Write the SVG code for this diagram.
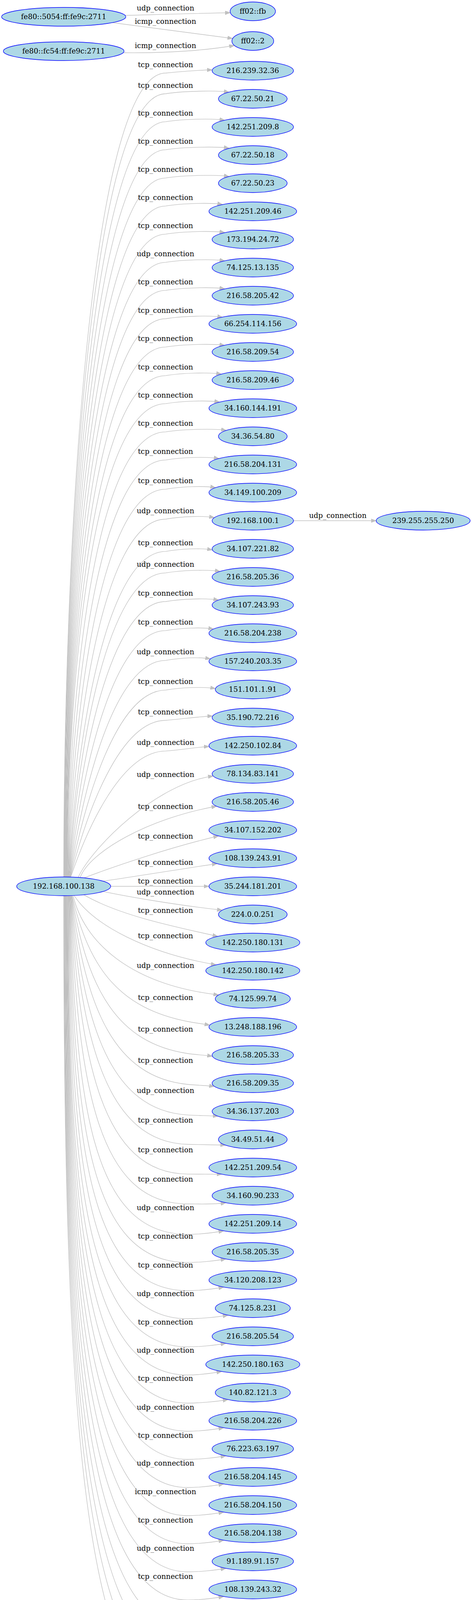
<svg xmlns="http://www.w3.org/2000/svg" width="1208" height="4391" viewBox="0 0 1208 4391">
<style>
.n ellipse{fill:#add8e6;stroke:#0000ff;stroke-width:1.33}
text{font-family:"DejaVu Serif","Liberation Serif",serif;font-size:18.4px;text-anchor:middle;fill:#000}
.e path{fill:none;stroke:#c0c0c0;stroke-width:1.33;marker-end:url(#ah)}
</style>
<defs>
<marker id="ah" viewBox="0 0 14 10" refX="13.3" refY="5" markerWidth="14" markerHeight="10" markerUnits="userSpaceOnUse" orient="auto">
<path d="M0,0.3 L13.3,5 L0,9.7 z" fill="#c0c0c0" stroke="#c0c0c0" stroke-width="1"/>
</marker>
</defs>
<rect width="1208" height="4391" fill="#fff"/>
<g id="connectors" class="e">
<path d="M321,39.5 C400,37 500,34.5 589.5,32.5"/><text x="423.5" y="27.2">udp_connection</text>
<path d="M288,58 L595.5,98.5"/><text x="423.5" y="60.5">icmp_connection</text>
<path d="M317,135 C420,136 520,130 600,116.5"/><text x="423.5" y="122.8">icmp_connection</text>
<path d="M750.7,1333 L963,1333"/><text x="864.5" y="1326.2">udp_connection</text>
<path d="M163,2245.4 C163,1422 228.3,188 424,187 C465,183 513.3,179 543.3,179"/><text x="423.5" y="171.5">tcp_connection</text>
<path d="M163.75,2245.4 C163.75,1443.2 228.8,241 424,240 C465,233 556.3,231 586.3,236"/><text x="423.5" y="224.5">tcp_connection</text>
<path d="M164.5,2245.4 C164.5,1471.9 229.4,312.7 424,311.7 C465,304.7 545.2,302.7 575.2,307.7"/><text x="423.5" y="296.2">tcp_connection</text>
<path d="M165.25,2245.4 C165.25,1500.6 229.9,384.3 424,383.3 C465,376.3 556.3,374.3 586.3,379.3"/><text x="423.5" y="367.8">tcp_connection</text>
<path d="M166,2245.4 C166,1529.5 230.5,456.7 424,455.7 C465,448.7 556.3,446.7 586.3,451.7"/><text x="423.5" y="440.2">tcp_connection</text>
<path d="M166.75,2245.4 C166.75,1558.2 231.1,528.3 424,527.3 C465,520.3 539.6,518.3 569.6,523.3"/><text x="423.5" y="511.8">tcp_connection</text>
<path d="M167.5,2245.4 C167.5,1587 231.6,600.3 424,599.3 C465,592.3 545.2,590.3 575.2,595.3"/><text x="423.5" y="583.8">tcp_connection</text>
<path d="M168.25,2245.4 C168.25,1615.9 232.2,672.7 424,671.7 C465,664.7 545.2,662.7 575.2,667.7"/><text x="423.5" y="656.2">udp_connection</text>
<path d="M169,2245.4 C169,1644.6 232.75,744.3 424,743.3 C465,736.3 545.2,734.3 575.2,739.3"/><text x="423.5" y="727.8">tcp_connection</text>
<path d="M169.75,2245.4 C169.75,1673.6 233.3,817 424,816 C465,809 539.6,807 569.6,812"/><text x="423.5" y="800.5">tcp_connection</text>
<path d="M170.5,2245.4 C170.5,1702.6 233.9,889.3 424,888.3 C465,881.3 545.2,879.3 575.2,884.3"/><text x="423.5" y="872.8">tcp_connection</text>
<path d="M171.25,2245.4 C171.25,1731.9 234.4,962.7 424,961.7 C465,954.7 536.8,952.7 566.8,957.7"/><text x="423.5" y="946.2">tcp_connection</text>
<path d="M172,2245.4 C172,1760.6 235,1034.3 424,1033.3 C465,1026.3 532.2,1024.3 562.2,1029.3"/><text x="423.5" y="1017.8">tcp_connection</text>
<path d="M172.75,2245.4 C175.75,1789.5 240.4,1106.7 424,1105.7 C465,1098.7 549.2,1096.7 579.2,1101.7"/><text x="423.5" y="1090.2">tcp_connection</text>
<path d="M173.5,2245.4 C180.1,1818.3 246.7,1178.7 424,1177.7 C465,1170.7 530.5,1168.7 560.5,1173.7"/><text x="423.5" y="1162.2">tcp_connection</text>
<path d="M174.25,2245.4 C184.55,1848.2 253.25,1253.3 424,1252.3 C465,1245.3 521.8,1243.3 551.8,1248.3"/><text x="423.5" y="1236.8">tcp_connection</text>
<path d="M175,2245.4 C189.2,1878.8 259.95,1330 424,1329 C465,1322 518.8,1320 548.8,1325"/><text x="423.5" y="1313.5">udp_connection</text>
<path d="M175.75,2245.4 C194.05,1911.9 267.1,1412.7 424,1411.7 C465,1404.7 513.5,1402.7 543.5,1407.7"/><text x="423.5" y="1396.2">tcp_connection</text>
<path d="M176.5,2245.4 C197.6,1933.9 272.1,1467.7 424,1466.7 C465,1459.7 533.4,1457.7 563.4,1462.7"/><text x="423.5" y="1451.2">udp_connection</text>
<path d="M177.25,2245.4 C201.95,1963.2 278.55,1541 424,1540 C465,1533 529.5,1531 559.5,1536"/><text x="423.5" y="1524.5">tcp_connection</text>
<path d="M178,2245.4 C206.4,1993 285,1615.3 424,1614.3 C465,1607.3 516.6,1605.3 546.6,1610.3"/><text x="423.5" y="1598.8">tcp_connection</text>
<path d="M178.75,2245.4 C211.05,2023.5 291.65,1691.7 424,1690.7 C465,1683.7 508.7,1681.7 538.7,1686.7"/><text x="423.5" y="1675.2">udp_connection</text>
<path d="M179.5,2245.4 C215.6,2053.9 298.3,1767.7 424,1766.7 C465,1759.7 521.5,1757.7 551.5,1762.7"/><text x="423.5" y="1751.2">tcp_connection</text>
<path d="M180.25,2245.4 C220.15,2084.8 305.05,1845 424,1844 C470,1840 515,1834 544.4,1833"/><text x="423.5" y="1828.5">tcp_connection</text>
<path d="M181,2245.3 C224.9,2116.3 311.95,1923.7 424,1922.7 C470,1919 510,1912 535.2,1911"/><text x="423.5" y="1907.2">udp_connection</text>
<path d="M200,2246.2 C235,2170 400,2005 545.9,1986.7"/><text x="423.5" y="1988.5">udp_connection</text>
<path d="M205,2246.5 C230,2180 380,2095 554.5,2064"/><text x="423.5" y="2071.2">tcp_connection</text>
<path d="M215,2247.4 C300,2215 440,2168 559.4,2140"/><text x="423.5" y="2146.8">tcp_connection</text>
<path d="M263,2255.7 C340,2245 460,2225 555.9,2211"/><text x="423.5" y="2213.8">tcp_connection</text>
<path d="M283.3,2269 L534.8,2269"/><text x="423.5" y="2261.5">tcp_connection</text>
<path d="M263.4,2282.2 C340,2298 460,2318 568.9,2330"/><text x="423.5" y="2289.5">udp_connection</text>
<path d="M214.3,2290.7 C300,2340 420,2367 557.4,2397"/><text x="423.5" y="2336.5">tcp_connection</text>
<path d="M189.7,2292.4 C240,2370 380,2440 553.1,2470"/><text x="423.5" y="2401.5">tcp_connection</text>
<path d="M187,2292.5 C215,2410 330,2520 559.7,2547"/><text x="423.5" y="2477.5">udp_connection</text>
<path d="M184.6,2292.6 C228.5,2486 310.8,2581.2 480,2615 C495,2618 522,2621.5 537,2624.5"/><text x="423.5" y="2559.5">tcp_connection</text>
<path d="M183.7,2292.7 C223.5,2535.3 301.8,2670.3 480,2697 C495,2699.3 528.7,2701.8 543.7,2704"/><text x="423.5" y="2640.5">tcp_connection</text>
<path d="M182.8,2292.7 C218.6,2582.7 293.1,2757.3 480,2776 C495,2777.5 533.8,2779.5 548.8,2781"/><text x="423.5" y="2720.5">tcp_connection</text>
<path d="M181.9,2292.7 C213.8,2629.7 284.45,2842.6 480,2854.3 C495,2855.2 543.1,2856.6 558.1,2857.5"/><text x="423.5" y="2797.8">udp_connection</text>
<path d="M181,2292.7 C209.2,2674.8 276.2,2923.4 480,2929.5 C495,2930 562,2931 577,2931.5"/><text x="423.5" y="2873.8">tcp_connection</text>
<path d="M180.1,2292.7 C204.5,2720.4 262,3003.4 480,3005.6 C495,3005.8 552.8,3006 567.8,3006"/><text x="423.5" y="2949.5">tcp_connection</text>
<path d="M179.2,2292.7 C199.7,2766.3 245,3082 480,3082 C510,3082 550.2,3084 578.2,3079"/><text x="423.5" y="3024.5">tcp_connection</text>
<path d="M178.3,2292.7 C194.9,2813.1 230,3160 480,3160 C510,3160 544.8,3156 572.8,3151"/><text x="423.5" y="3097.8">udp_connection</text>
<path d="M177.4,2292.7 C190.4,2856.3 222,3232 480,3232 C510,3232 550.2,3228 578.2,3223"/><text x="423.5" y="3171.2">tcp_connection</text>
<path d="M176.5,2292.7 C185.9,2899.5 218,3304 480,3304 C510,3304 544.8,3300 572.8,3295"/><text x="423.5" y="3244.5">tcp_connection</text>
<path d="M175.6,2292.7 C181.4,2942.7 215.2,3376 480,3376 C510,3376 555.5,3372 583.5,3367"/><text x="423.5" y="3317.8">udp_connection</text>
<path d="M174.7,2292.7 C176.9,2985.9 214.4,3448 480,3448 C510,3448 550.2,3444 578.2,3439"/><text x="423.5" y="3390.5">tcp_connection</text>
<path d="M173.8,2292.7 C173.8,3029.1 213.6,3520 480,3520 C510,3520 539.5,3516 567.5,3511"/><text x="423.5" y="3462.8">udp_connection</text>
<path d="M172.9,2292.7 C172.9,3072.3 212.8,3592 480,3592 C510,3592 555.5,3588 583.5,3583"/><text x="423.5" y="3534.5">tcp_connection</text>
<path d="M172,2292.7 C172,3115.5 212,3664 480,3664 C510,3664 544.8,3660 572.8,3655"/><text x="423.5" y="3608.5">udp_connection</text>
<path d="M171.1,2292.7 C171.1,3158.7 211.3,3736 480,3736 C510,3736 550.2,3732 578.2,3727"/><text x="423.5" y="3680.5">tcp_connection</text>
<path d="M170.2,2292.7 C170.2,3201.9 210.5,3808 480,3808 C510,3808 544.8,3804 572.8,3799"/><text x="423.5" y="3752.2">udp_connection</text>
<path d="M169.3,2292.7 C169.3,3245.1 209.7,3880 480,3880 C510,3880 544.8,3876 572.8,3871"/><text x="423.5" y="3825.2">icmp_connection</text>
<path d="M168.4,2292.7 C168.4,3288.3 208.9,3952 480,3952 C510,3952 544.8,3948 572.8,3943"/><text x="423.5" y="3897.8">tcp_connection</text>
<path d="M167.5,2292.7 C167.5,3331.5 208.1,4024 480,4024 C510,4024 550.2,4020 578.2,4015"/><text x="423.5" y="3970.2">udp_connection</text>
<path d="M166.6,2292.7 C166.6,3374.7 207.3,4096 480,4096 C510,4096 544.8,4092 572.8,4087"/><text x="423.5" y="4041.8">tcp_connection</text>
<path d="M165.7,2292.7 C165.7,3417.9 206.6,4168 480,4168 C510,4168 544.8,4164 572.8,4159"/><text x="423.5" y="4113.5">tcp_connection</text>
<path d="M164.8,2292.7 C164.8,3461.1 205.8,4240 480,4240 C510,4240 539.5,4236 567.5,4231"/><text x="423.5" y="4186.2">udp_connection</text>
<path d="M163.9,2292.7 C163.9,3504.3 205,4312 480,4312 C510,4312 544.8,4308 572.8,4303"/><text x="423.5" y="4257.5">tcp_connection</text>
<path d="M163,2292.7 C163,3547.5 204.2,4384 480,4384 C510,4384 550.2,4380 578.2,4375"/><text x="423.5" y="4331.2">tcp_connection</text>
</g>
<g id="node-fe80-5054" class="n"><ellipse cx="163" cy="43" rx="159" ry="24"/><text x="163" y="48.5">fe80::5054:ff:fe9c:2711</text></g>
<g id="node-fe80-fc54" class="n"><ellipse cx="163" cy="131" rx="154.5" ry="24"/><text x="163" y="136.5">fe80::fc54:ff:fe9c:2711</text></g>
<g id="node-192-168-100-138" class="n"><ellipse cx="163" cy="2269" rx="120.3" ry="24"/><text x="163" y="2274.5">192.168.100.138</text></g>
<g id="node-ff02-fb" class="n"><ellipse cx="647" cy="29" rx="58" ry="24"/><text x="647" y="34.5">ff02::fb</text></g>
<g id="node-ff02-2" class="n"><ellipse cx="647" cy="105" rx="53.5" ry="24"/><text x="647" y="110.5">ff02::2</text></g>
<g id="node-239-255-255-250" class="n"><ellipse cx="1083" cy="1333" rx="120.3" ry="24"/><text x="1083" y="1338.5">239.255.255.250</text></g>
<g id="node-216-239-32-36" class="n"><ellipse cx="647" cy="181" rx="104.1" ry="24"/><text x="647" y="186.5">216.239.32.36</text></g>
<g id="node-67-22-50-21" class="n"><ellipse cx="647" cy="253" rx="87.9" ry="24"/><text x="647" y="258.5">67.22.50.21</text></g>
<g id="node-142-251-209-8" class="n"><ellipse cx="647" cy="325" rx="104.1" ry="24"/><text x="647" y="330.5">142.251.209.8</text></g>
<g id="node-67-22-50-18" class="n"><ellipse cx="647" cy="397" rx="87.9" ry="24"/><text x="647" y="402.5">67.22.50.18</text></g>
<g id="node-67-22-50-23" class="n"><ellipse cx="647" cy="469" rx="87.9" ry="24"/><text x="647" y="474.5">67.22.50.23</text></g>
<g id="node-142-251-209-46" class="n"><ellipse cx="647" cy="541" rx="112.2" ry="24"/><text x="647" y="546.5">142.251.209.46</text></g>
<g id="node-173-194-24-72" class="n"><ellipse cx="647" cy="613" rx="104.1" ry="24"/><text x="647" y="618.5">173.194.24.72</text></g>
<g id="node-74-125-13-135" class="n"><ellipse cx="647" cy="685" rx="104.1" ry="24"/><text x="647" y="690.5">74.125.13.135</text></g>
<g id="node-216-58-205-42" class="n"><ellipse cx="647" cy="757" rx="104.1" ry="24"/><text x="647" y="762.5">216.58.205.42</text></g>
<g id="node-66-254-114-156" class="n"><ellipse cx="647" cy="829" rx="112.2" ry="24"/><text x="647" y="834.5">66.254.114.156</text></g>
<g id="node-216-58-209-54" class="n"><ellipse cx="647" cy="901" rx="104.1" ry="24"/><text x="647" y="906.5">216.58.209.54</text></g>
<g id="node-216-58-209-46" class="n"><ellipse cx="647" cy="973" rx="104.1" ry="24"/><text x="647" y="978.5">216.58.209.46</text></g>
<g id="node-34-160-144-191" class="n"><ellipse cx="647" cy="1045" rx="112.2" ry="24"/><text x="647" y="1050.5">34.160.144.191</text></g>
<g id="node-34-36-54-80" class="n"><ellipse cx="647" cy="1117" rx="87.9" ry="24"/><text x="647" y="1122.5">34.36.54.80</text></g>
<g id="node-216-58-204-131" class="n"><ellipse cx="647" cy="1189" rx="112.2" ry="24"/><text x="647" y="1194.5">216.58.204.131</text></g>
<g id="node-34-149-100-209" class="n"><ellipse cx="647" cy="1261" rx="112.2" ry="24"/><text x="647" y="1266.5">34.149.100.209</text></g>
<g id="node-192-168-100-1" class="n"><ellipse cx="647" cy="1333" rx="104.1" ry="24"/><text x="647" y="1338.5">192.168.100.1</text></g>
<g id="node-34-107-221-82" class="n"><ellipse cx="647" cy="1405" rx="104.1" ry="24"/><text x="647" y="1410.5">34.107.221.82</text></g>
<g id="node-216-58-205-36" class="n"><ellipse cx="647" cy="1477" rx="104.1" ry="24"/><text x="647" y="1482.5">216.58.205.36</text></g>
<g id="node-34-107-243-93" class="n"><ellipse cx="647" cy="1549" rx="104.1" ry="24"/><text x="647" y="1554.5">34.107.243.93</text></g>
<g id="node-216-58-204-238" class="n"><ellipse cx="647" cy="1621" rx="112.2" ry="24"/><text x="647" y="1626.5">216.58.204.238</text></g>
<g id="node-157-240-203-35" class="n"><ellipse cx="647" cy="1693" rx="112.2" ry="24"/><text x="647" y="1698.5">157.240.203.35</text></g>
<g id="node-151-101-1-91" class="n"><ellipse cx="647" cy="1765" rx="96" ry="24"/><text x="647" y="1770.5">151.101.1.91</text></g>
<g id="node-35-190-72-216" class="n"><ellipse cx="647" cy="1837" rx="104.1" ry="24"/><text x="647" y="1842.5">35.190.72.216</text></g>
<g id="node-142-250-102-84" class="n"><ellipse cx="647" cy="1909" rx="112.2" ry="24"/><text x="647" y="1914.5">142.250.102.84</text></g>
<g id="node-78-134-83-141" class="n"><ellipse cx="647" cy="1981" rx="104.1" ry="24"/><text x="647" y="1986.5">78.134.83.141</text></g>
<g id="node-216-58-205-46" class="n"><ellipse cx="647" cy="2053" rx="104.1" ry="24"/><text x="647" y="2058.5">216.58.205.46</text></g>
<g id="node-34-107-152-202" class="n"><ellipse cx="647" cy="2125" rx="112.2" ry="24"/><text x="647" y="2130.5">34.107.152.202</text></g>
<g id="node-108-139-243-91" class="n"><ellipse cx="647" cy="2197" rx="112.2" ry="24"/><text x="647" y="2202.5">108.139.243.91</text></g>
<g id="node-35-244-181-201" class="n"><ellipse cx="647" cy="2269" rx="112.2" ry="24"/><text x="647" y="2274.5">35.244.181.201</text></g>
<g id="node-224-0-0-251" class="n"><ellipse cx="647" cy="2341" rx="87.9" ry="24"/><text x="647" y="2346.5">224.0.0.251</text></g>
<g id="node-142-250-180-131" class="n"><ellipse cx="647" cy="2413" rx="120.3" ry="24"/><text x="647" y="2418.5">142.250.180.131</text></g>
<g id="node-142-250-180-142" class="n"><ellipse cx="647" cy="2485" rx="120.3" ry="24"/><text x="647" y="2490.5">142.250.180.142</text></g>
<g id="node-74-125-99-74" class="n"><ellipse cx="647" cy="2557" rx="96" ry="24"/><text x="647" y="2562.5">74.125.99.74</text></g>
<g id="node-13-248-188-196" class="n"><ellipse cx="647" cy="2629" rx="112.2" ry="24"/><text x="647" y="2634.5">13.248.188.196</text></g>
<g id="node-216-58-205-33" class="n"><ellipse cx="647" cy="2701" rx="104.1" ry="24"/><text x="647" y="2706.5">216.58.205.33</text></g>
<g id="node-216-58-209-35" class="n"><ellipse cx="647" cy="2773" rx="104.1" ry="24"/><text x="647" y="2778.5">216.58.209.35</text></g>
<g id="node-34-36-137-203" class="n"><ellipse cx="647" cy="2845" rx="104.1" ry="24"/><text x="647" y="2850.5">34.36.137.203</text></g>
<g id="node-34-49-51-44" class="n"><ellipse cx="647" cy="2917" rx="87.9" ry="24"/><text x="647" y="2922.5">34.49.51.44</text></g>
<g id="node-142-251-209-54" class="n"><ellipse cx="647" cy="2989" rx="112.2" ry="24"/><text x="647" y="2994.5">142.251.209.54</text></g>
<g id="node-34-160-90-233" class="n"><ellipse cx="647" cy="3061" rx="104.1" ry="24"/><text x="647" y="3066.5">34.160.90.233</text></g>
<g id="node-142-251-209-14" class="n"><ellipse cx="647" cy="3133" rx="112.2" ry="24"/><text x="647" y="3138.5">142.251.209.14</text></g>
<g id="node-216-58-205-35" class="n"><ellipse cx="647" cy="3205" rx="104.1" ry="24"/><text x="647" y="3210.5">216.58.205.35</text></g>
<g id="node-34-120-208-123" class="n"><ellipse cx="647" cy="3277" rx="112.2" ry="24"/><text x="647" y="3282.5">34.120.208.123</text></g>
<g id="node-74-125-8-231" class="n"><ellipse cx="647" cy="3349" rx="96" ry="24"/><text x="647" y="3354.5">74.125.8.231</text></g>
<g id="node-216-58-205-54" class="n"><ellipse cx="647" cy="3421" rx="104.1" ry="24"/><text x="647" y="3426.5">216.58.205.54</text></g>
<g id="node-142-250-180-163" class="n"><ellipse cx="647" cy="3493" rx="120.3" ry="24"/><text x="647" y="3498.5">142.250.180.163</text></g>
<g id="node-140-82-121-3" class="n"><ellipse cx="647" cy="3565" rx="96" ry="24"/><text x="647" y="3570.5">140.82.121.3</text></g>
<g id="node-216-58-204-226" class="n"><ellipse cx="647" cy="3637" rx="112.2" ry="24"/><text x="647" y="3642.5">216.58.204.226</text></g>
<g id="node-76-223-63-197" class="n"><ellipse cx="647" cy="3709" rx="104.1" ry="24"/><text x="647" y="3714.5">76.223.63.197</text></g>
<g id="node-216-58-204-145" class="n"><ellipse cx="647" cy="3781" rx="112.2" ry="24"/><text x="647" y="3786.5">216.58.204.145</text></g>
<g id="node-216-58-204-150" class="n"><ellipse cx="647" cy="3853" rx="112.2" ry="24"/><text x="647" y="3858.5">216.58.204.150</text></g>
<g id="node-216-58-204-138" class="n"><ellipse cx="647" cy="3925" rx="112.2" ry="24"/><text x="647" y="3930.5">216.58.204.138</text></g>
<g id="node-91-189-91-157" class="n"><ellipse cx="647" cy="3997" rx="104.1" ry="24"/><text x="647" y="4002.5">91.189.91.157</text></g>
<g id="node-108-139-243-32" class="n"><ellipse cx="647" cy="4069" rx="112.2" ry="24"/><text x="647" y="4074.5">108.139.243.32</text></g>
<g id="node-108-139-243-42" class="n"><ellipse cx="647" cy="4141" rx="112.2" ry="24"/><text x="647" y="4146.5">108.139.243.42</text></g>
<g id="node-142-250-180-164" class="n"><ellipse cx="647" cy="4213" rx="120.3" ry="24"/><text x="647" y="4218.5">142.250.180.164</text></g>
<g id="node-108-138-199-53" class="n"><ellipse cx="647" cy="4285" rx="112.2" ry="24"/><text x="647" y="4290.5">108.138.199.53</text></g>
<g id="node-66-254-114-41" class="n"><ellipse cx="647" cy="4357" rx="104.1" ry="24"/><text x="647" y="4362.5">66.254.114.41</text></g>
</svg>
